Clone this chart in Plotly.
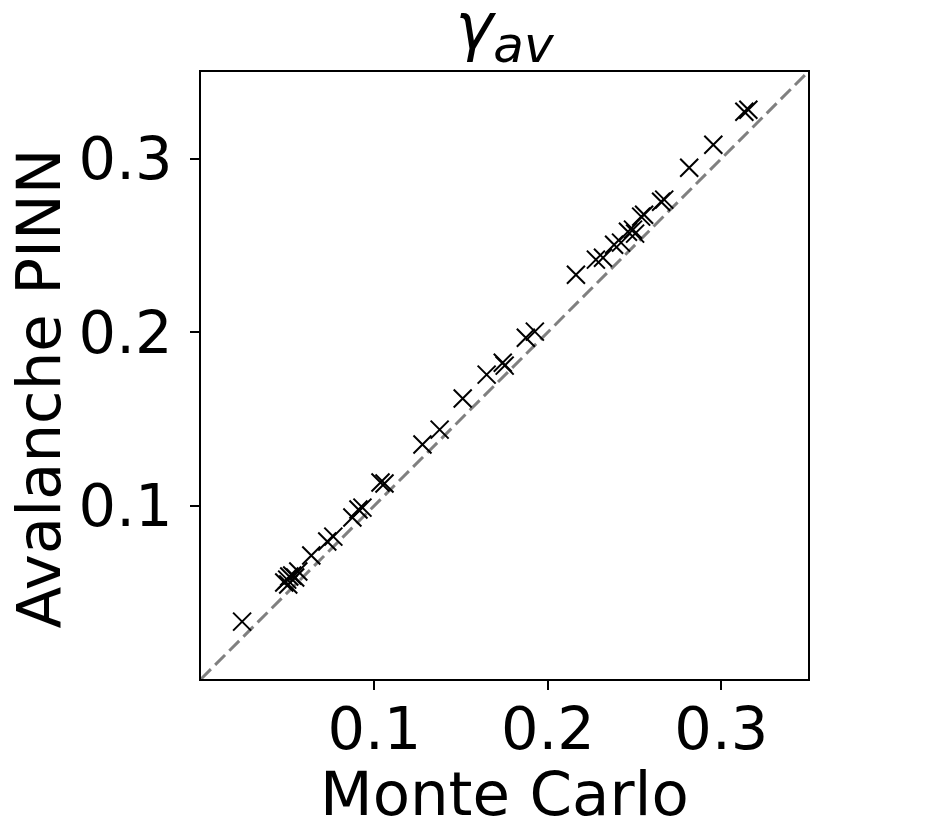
import plotly.graph_objects as go

# gamma_av: Monte Carlo reference vs Avalanche PINN prediction
monte_carlo = [
    0.0237, 0.0480, 0.0497, 0.0509, 0.0526, 0.0543, 0.0503, 0.0561, 0.0636, 0.0728,
    0.0763, 0.0873, 0.0908, 0.0931, 0.1035, 0.1058, 0.1277, 0.1376, 0.1509, 0.1647,
    0.1740, 0.1751, 0.1873, 0.1925, 0.2162, 0.2277, 0.2318, 0.2382, 0.2422, 0.2462,
    0.2491, 0.2503, 0.2538, 0.2555, 0.2653, 0.2671, 0.2815, 0.2954, 0.3133, 0.3156,
]
avalanche_pinn = [
    0.0331, 0.0556, 0.0573, 0.0591, 0.0597, 0.0585, 0.0545, 0.0620, 0.0712, 0.0793,
    0.0821, 0.0931, 0.0977, 0.0988, 0.1133, 0.1127, 0.1352, 0.1438, 0.1617, 0.1755,
    0.1824, 0.1807, 0.1968, 0.2003, 0.2331, 0.2418, 0.2429, 0.2504, 0.2516, 0.2579,
    0.2591, 0.2568, 0.2666, 0.2677, 0.2752, 0.2764, 0.2948, 0.3081, 0.3271, 0.3282,
]
diag = [0, 0.35]
tick_vals = [0.1, 0.2, 0.3]

FONT = "DejaVu Sans, sans-serif"

fig = go.Figure()
fig.add_trace(go.Scatter(
    x=diag, y=diag, mode="lines",
    line=dict(color="#808080", width=3, dash="14px,6px"),
    hoverinfo="skip", showlegend=False,
))
fig.add_trace(go.Scatter(
    x=monte_carlo, y=avalanche_pinn, mode="markers",
    marker=dict(symbol="x-thin", size=18, line=dict(color="black", width=2)),
    showlegend=False,
))

axis = dict(
    range=[0, 0.35], tickvals=tick_vals, ticktext=["0.1", "0.2", "0.3"],
    showgrid=False, zeroline=False, showline=True, mirror=True,
    linecolor="black", linewidth=1.5, automargin=False,
    ticks="outside", ticklen=9, tickwidth=1.5, tickcolor="black",
    tickfont=dict(size=59, color="black", family=FONT),
)

# axis titles as annotations: plotly keeps real axis titles inside the margins,
# and the bottom one has to sit right at the page edge here
label_font = dict(size=61, color="black", family=FONT)
fig.add_annotation(text="Monte Carlo", xref="paper", yref="paper", x=0.5, y=0,
                   xanchor="center", yanchor="middle", yshift=-114,
                   showarrow=False, font=label_font)
fig.add_annotation(text="Avalanche PINN", xref="paper", yref="paper", x=0, y=0.5,
                   xanchor="center", yanchor="middle", xshift=-163, yshift=-13,
                   textangle=-90, showarrow=False, font=label_font)

# page body keeps a small default margin, so the figure is a bit smaller
fig.update_layout(
    width=930, height=813,
    margin=dict(l=193, r=130, t=64, b=142),
    paper_bgcolor="white", plot_bgcolor="white",
    font=dict(family=FONT, color="black"),
    title=dict(
        text='<i>γ<sub><span style="font-size:50px">av</span></sub></i>',
        x=(193 + 303.5) / 930, xanchor="center",
        y=1 - 41 / 813, yanchor="bottom",
        font=dict(size=64, color="black", family=FONT),
    ),
    xaxis=dict(axis, ticklabelstandoff=-12),
    yaxis=dict(axis, ticklabelstandoff=6),
)

fig.write_html("out.html")
